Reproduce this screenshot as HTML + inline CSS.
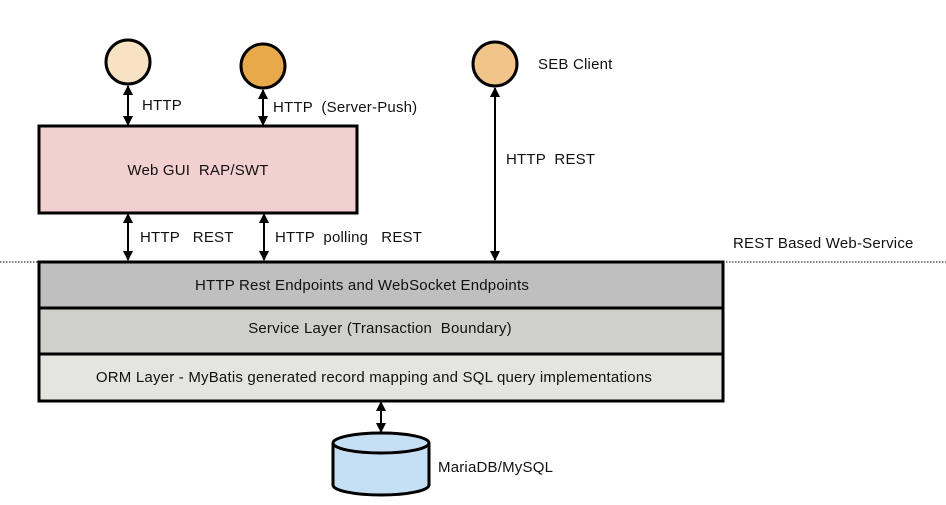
<!DOCTYPE html>
<html><head><style>body{margin:0;background:#fff}svg{display:block}text{font-family:"Liberation Sans",sans-serif;font-size:15px;fill:#111;white-space:pre;letter-spacing:0.2px}</style></head><body>
<svg width="946" height="505" viewBox="0 0 946 505" xml:space="preserve">
<defs><marker id="a" viewBox="0 0 10 10" refX="9" refY="5" markerWidth="5" markerHeight="5" orient="auto-start-reverse"><path d="M0,0L10,5L0,10z" fill="#000"/></marker></defs>
<line x1="0" y1="262" x2="946" y2="262" stroke="#000" stroke-dasharray="1.5,1.5" stroke-width="1"/>
<circle cx="128" cy="62" r="22" fill="#f8e2c4" stroke="#000" stroke-width="3"/>
<circle cx="263" cy="66" r="22" fill="#e8a94a" stroke="#000" stroke-width="3"/>
<circle cx="495" cy="64" r="22" fill="#f1c58a" stroke="#000" stroke-width="3"/>
<g stroke="#000" stroke-width="2" marker-start="url(#a)" marker-end="url(#a)">
<line x1="128" y1="86" x2="128" y2="125"/>
<line x1="263" y1="90" x2="263" y2="125"/>
<line x1="128" y1="214" x2="128" y2="260"/>
<line x1="264" y1="214" x2="264" y2="260"/>
<line x1="495" y1="88" x2="495" y2="260"/>
<line x1="381" y1="402" x2="381" y2="432"/>
</g>
<rect x="39" y="126" width="318" height="87" fill="#f2d0cf" stroke="#000" stroke-width="3"/>
<text x="198" y="175" text-anchor="middle">Web GUI  RAP/SWT</text>
<rect x="39" y="262" width="684" height="46" fill="#bfbfbf" stroke="#000" stroke-width="3"/>
<rect x="39" y="308" width="684" height="46" fill="#cfcfcb" stroke="#000" stroke-width="3"/>
<rect x="39" y="354" width="684" height="47" fill="#e4e4e0" stroke="#000" stroke-width="3"/>
<text x="362" y="290" text-anchor="middle">HTTP Rest Endpoints and WebSocket Endpoints</text>
<text x="380" y="333" text-anchor="middle">Service Layer (Transaction  Boundary)</text>
<text x="374" y="382" text-anchor="middle">ORM Layer - MyBatis generated record mapping and SQL query implementations</text>
<path d="M333,443 L333,485 A48,10 0 0 0 429,485 L429,443" fill="#c5e0f5" stroke="#000" stroke-width="3"/>
<ellipse cx="381" cy="443" rx="48" ry="10" fill="#c5e0f5" stroke="#000" stroke-width="3"/>
<text x="142" y="110">HTTP</text>
<text x="273" y="112">HTTP  (Server-Push)</text>
<text x="140" y="242">HTTP   REST</text>
<text x="275" y="242">HTTP  polling   REST</text>
<text x="506" y="164">HTTP  REST</text>
<text x="538" y="69">SEB Client</text>
<text x="733" y="248">REST Based Web-Service</text>
<text x="438" y="472">MariaDB/MySQL</text>
</svg></body></html>
